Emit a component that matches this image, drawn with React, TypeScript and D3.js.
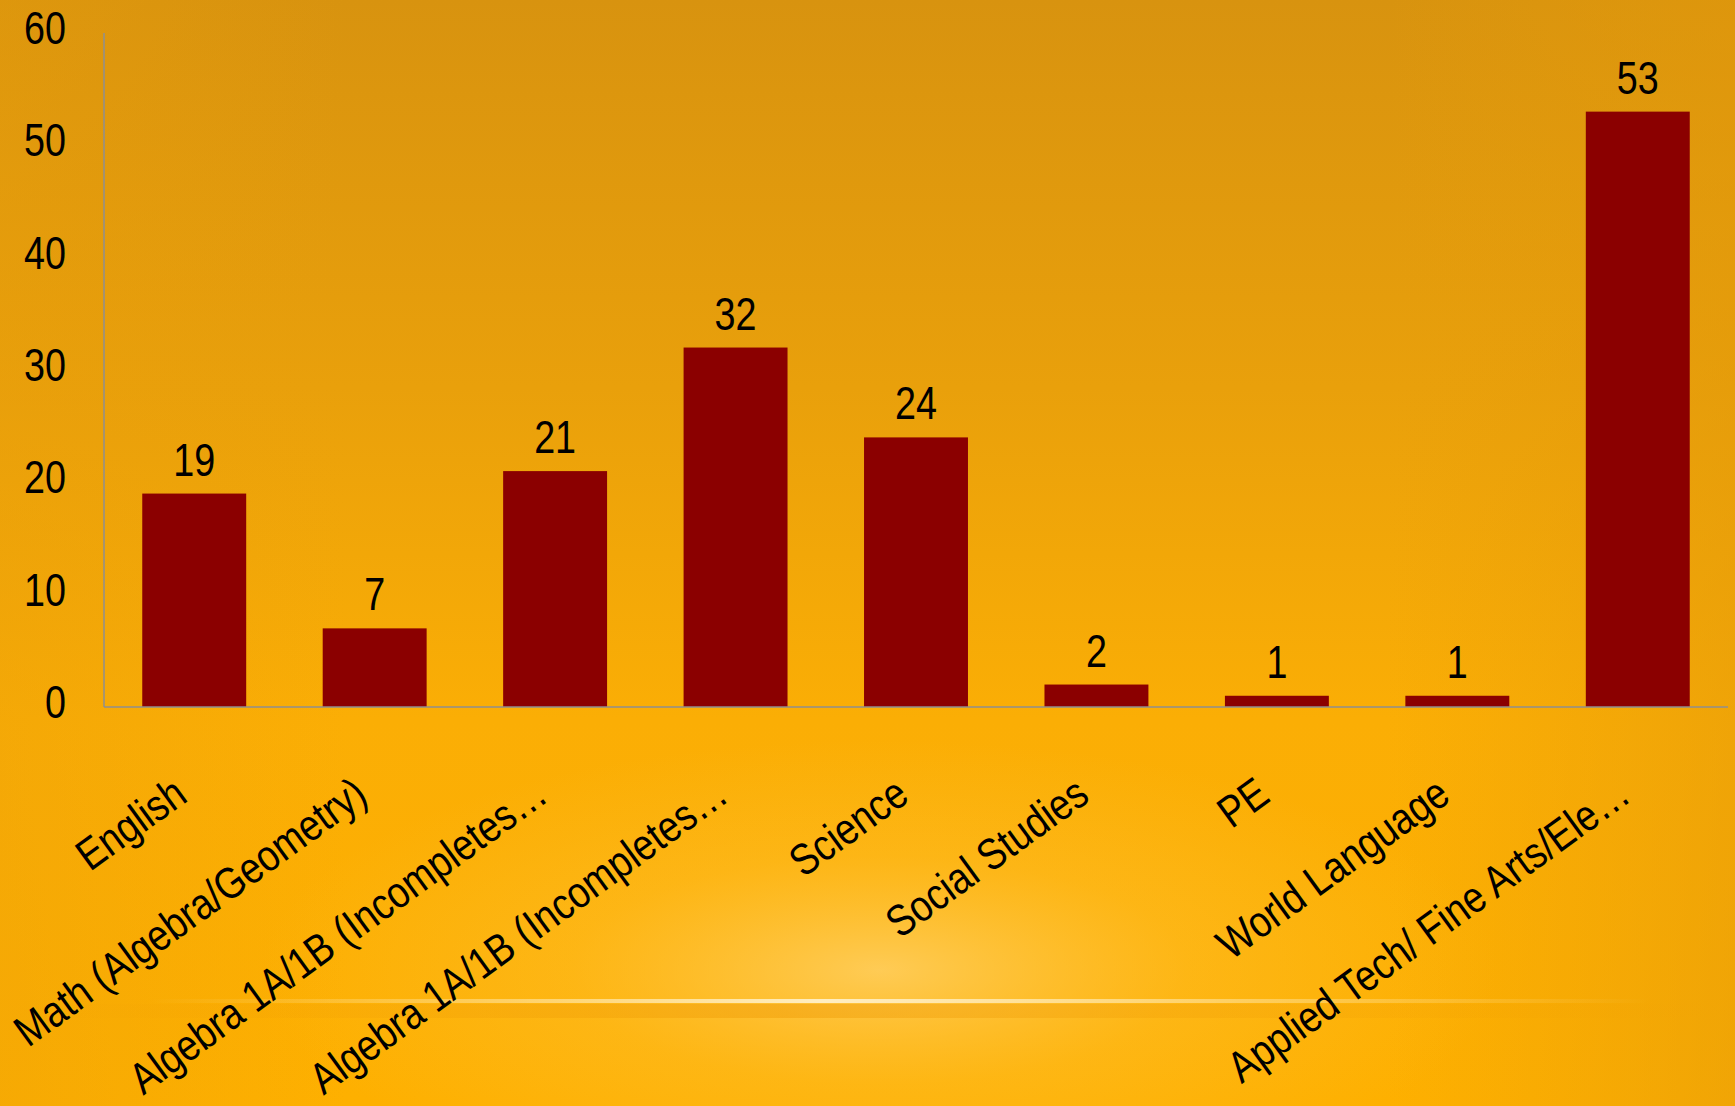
import React from "react";
import * as d3 from "d3";

const categories: string[] = [
  "English",
  "Math (Algebra/Geometry)",
  "Algebra 1A/1B (Incompletes…",
  "Algebra 1A/1B (Incompletes…",
  "Science",
  "Social Studies",
  "PE",
  "World Language",
  "Applied Tech/ Fine Arts/Ele…",
];
const values: number[] = [19, 7, 21, 32, 24, 2, 1, 1, 53];
const yTicks: number[] = [0, 10, 20, 30, 40, 50, 60];

const W = 1735;
const H = 1106;
const FONT = "'Liberation Sans', Arial, sans-serif";
const SX = 0.82;
const SX_CAT = 0.85;

export default function App() {
  const x = d3
    .scaleBand<number>()
    .domain(d3.range(categories.length))
    .range([104, 1728])
    .paddingInner(0.424)
    .paddingOuter(0.212);
  const y = d3.scaleLinear().domain([0, 60]).range([707, 33]);

  return (
    <svg
      width={W}
      height={H}
      style={{ position: "absolute", left: 0, top: 0, display: "block" }}
    >
      <defs>
        <linearGradient id="bg" x1="0" y1="0" x2="0" y2="1">
          <stop offset="0" stopColor="#D8930F" />
          <stop offset="0.35" stopColor="#E9A00B" />
          <stop offset="0.65" stopColor="#FBAE05" />
          <stop offset="1" stopColor="#FEB000" />
        </linearGradient>
        <linearGradient id="side" x1="0" y1="0" x2="1" y2="0">
          <stop offset="0" stopColor="#E89E0A" stopOpacity="0.35" />
          <stop offset="0.2" stopColor="#E89E0A" stopOpacity="0" />
          <stop offset="0.8" stopColor="#E89E0A" stopOpacity="0" />
          <stop offset="1" stopColor="#E39A0A" stopOpacity="0.5" />
        </linearGradient>
        <radialGradient id="glow" cx="0.5" cy="0.5" r="0.5">
          <stop offset="0" stopColor="#FFD26A" stopOpacity="0.8" />
          <stop offset="0.5" stopColor="#FFC640" stopOpacity="0.3" />
          <stop offset="1" stopColor="#FFC640" stopOpacity="0" />
        </radialGradient>
        <linearGradient id="line" x1="0" y1="0" x2="1" y2="0">
          <stop offset="0" stopColor="#FFE9B0" stopOpacity="0" />
          <stop offset="0.45" stopColor="#FFF0C8" stopOpacity="0.95" />
          <stop offset="1" stopColor="#FFE9B0" stopOpacity="0" />
        </linearGradient>
        <linearGradient id="shade" x1="0" y1="0" x2="1" y2="0">
          <stop offset="0" stopColor="#EE9A05" stopOpacity="0" />
          <stop offset="0.45" stopColor="#EE9A05" stopOpacity="0.45" />
          <stop offset="1" stopColor="#EE9A05" stopOpacity="0" />
        </linearGradient>
      </defs>
      <rect x={0} y={0} width={W} height={H} fill="url(#bg)" />
      <rect x={0} y={0} width={W} height={H} fill="url(#side)" />
      <ellipse cx={880} cy={970} rx={620} ry={230} fill="url(#glow)" />
      <rect x={0} y={1004} width={W} height={14} fill="url(#shade)" />
      <rect x={150} y={999} width={1500} height={4} fill="url(#line)" />

      {/* y axis */}
      <line x1={104} y1={y(60)} x2={104} y2={y(0)} stroke="#8F8F8F" strokeWidth={1.5} />

      {/* bars */}
      {values.map((v, i) => (
        <rect
          key={i}
          x={x(i)}
          y={y(v)}
          width={x.bandwidth()}
          height={y(0) - y(v)}
          fill="#8B0000"
        />
      ))}
      <line x1={104} y1={y(0)} x2={1728} y2={y(0)} stroke="#8F8F8F" strokeWidth={1.5} />

      {/* y tick labels */}
      {yTicks.map((t) => (
        <text
          key={t}
          transform={`translate(66,${y(t) - 5}) scale(${SX},1)`}
          textAnchor="end"
          dominantBaseline="central"
          fontFamily={FONT}
          fontSize={46}
          fill="#000"
        >
          {t}
        </text>
      ))}

      {/* data labels */}
      {values.map((v, i) => (
        <text
          key={i}
          transform={`translate(${(x(i) as number) + x.bandwidth() / 2},${y(v) - 18}) scale(${SX},1)`}
          textAnchor="middle"
          fontFamily={FONT}
          fontSize={46}
          fill="#000"
        >
          {v}
        </text>
      ))}

      {/* category labels */}
      {categories.map((c, i) => {
        const cx = (x(i) as number) + x.bandwidth() / 2 - 5;
        return (
          <text
            key={i}
            transform={`translate(${cx},800) rotate(-36) scale(${SX_CAT},1)`}
            textAnchor="end"
            fontFamily={FONT}
            fontSize={44}
            fill="#000"
          >
            {c}
          </text>
        );
      })}
    </svg>
  );
}
